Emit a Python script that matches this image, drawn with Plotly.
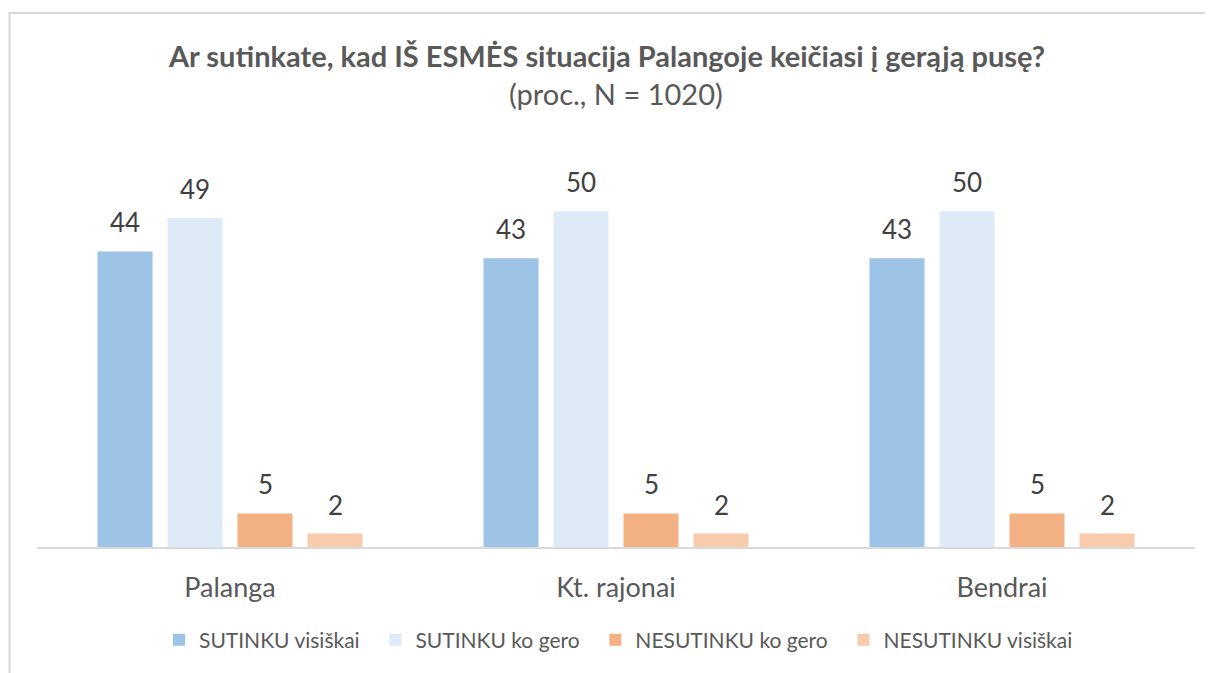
import plotly.graph_objects as go

categories = ["Palanga", "Kt. rajonai", "Bendrai"]
series_names = ["SUTINKU visiškai", "SUTINKU ko gero", "NESUTINKU ko gero", "NESUTINKU visiškai"]
sutinku_visiskai = [44, 43, 43]
sutinku_ko_gero = [49, 50, 50]
nesutinku_ko_gero = [5, 5, 5]
nesutinku_visiskai = [2, 2, 2]
colors = ["#9DC3E6", "#DEEBF7", "#F4B183", "#F8CBAD"]

values = [sutinku_visiskai, sutinku_ko_gero, nesutinku_ko_gero, nesutinku_visiskai]
FONT = "Lato"

# page body has an 8px margin; work in reference pixel coords and offset
OFF = 8
W, H = 1213 - OFF, 673 - OFF
ml, mr, mt, mb = 37 - OFF, 18, 144 - OFF, 126
pw, ph = W - ml - mr, H - mt - mb
BARGAP, BARGROUPGAP = 0.2746, 0.214


def px2x(px):
    return (px - OFF - ml) / pw


def py2y(py):
    return (H - mb - (py - OFF)) / ph


fig = go.Figure()
for name, vals, col in zip(series_names, values, colors):
    fig.add_trace(go.Bar(
        x=categories, y=vals, name=name + "\u00a0\u00a0",
        marker=dict(color=col, line=dict(width=0)),
        cliponaxis=False,
    ))

# data labels as annotations positioned via the axes
slot = pw / len(categories) * (1 - BARGAP) / len(values)
annotations = []
for i, vals in enumerate(values):
    for cat, v in zip(categories, vals):
        annotations.append(dict(
            x=cat, y=v, xref="x", yref="y", text=str(v), showarrow=False,
            xshift=(i - (len(values) - 1) / 2) * slot, yshift=29,
            xanchor="center", yanchor="middle",
            font=dict(family=FONT, size=26, color="#404040"),
        ))

annotations += [
    dict(text="<b>Ar sutinkate, kad IŠ ESMĖS situacija Palangoje keičiasi į gerąją pusę?</b>",
         xref="paper", yref="paper", x=px2x(606), y=py2y(56), xanchor="center", yanchor="middle",
         showarrow=False, font=dict(family=FONT, size=29, color="#595959")),
    dict(text="(proc., N = 1020)",
         xref="paper", yref="paper", x=px2x(616), y=py2y(94), xanchor="center", yanchor="middle",
         showarrow=False, font=dict(family=FONT, size=29, color="#595959")),
]

fig.update_layout(
    width=W, height=H,
    margin=dict(l=ml, r=mr, t=mt, b=mb),
    paper_bgcolor="white", plot_bgcolor="white",
    barmode="group", bargap=BARGAP, bargroupgap=BARGROUPGAP,
    font=dict(family=FONT, color="#595959"),
    showlegend=True,
    legend=dict(orientation="h", x=px2x(624), xanchor="center", y=py2y(640), yanchor="middle",
                font=dict(family=FONT, size=21, color="#595959"),
                itemwidth=30, traceorder="normal"),
    xaxis=dict(showline=True, linecolor="#D9D9D9", linewidth=2, ticks="",
               ticklabelstandoff=16,
               tickfont=dict(family=FONT, size=27, color="#595959"), showgrid=False),
    yaxis=dict(range=[0, 60], visible=False, showgrid=False, zeroline=False),
    annotations=annotations,
    shapes=[
        dict(type="rect", xref="paper", yref="paper", x0=px2x(9.5), x1=px2x(1260), y0=py2y(720), y1=py2y(13),
             line=dict(color="#D9D9D9", width=2), fillcolor="rgba(0,0,0,0)", layer="below"),
    ],
)

fig.write_html("out.html")
